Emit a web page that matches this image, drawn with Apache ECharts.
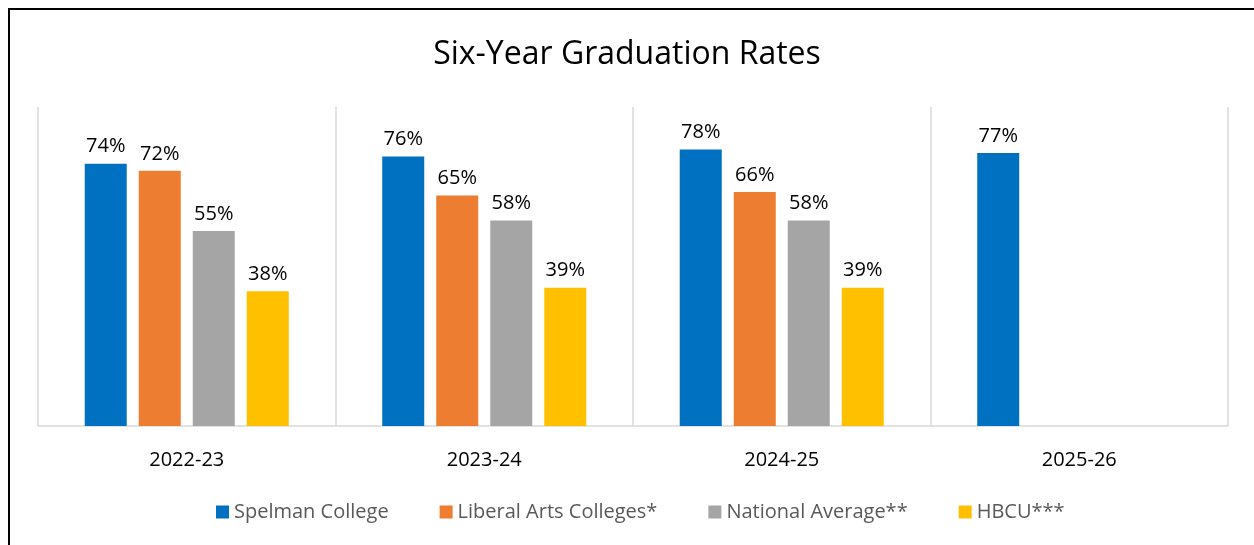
<!DOCTYPE html>
<html><head><meta charset="utf-8">
<script src="https://cdn.jsdelivr.net/npm/echarts@6/dist/echarts.min.js"></script>
<style>html,body{margin:0;padding:0;background:#fff}#c{width:1254px;height:545px}</style>
</head><body><div id="c"></div>
<script>
const categories = ['2022-23', '2023-24', '2024-25', '2025-26'];
const seriesNames = ['Spelman College', 'Liberal Arts Colleges*', 'National Average**', 'HBCU***'];
const spelman = [74, 76, 78, 77];
const liberalArts = [72, 65, 66, null];
const nationalAvg = [55, 58, 58, null];
const hbcu = [38, 39, 39, null];
const colors = ['#0070C0', '#ED7D31', '#A5A5A5', '#FFC000'];
const FONT = 'Open Sans';

const chart = echarts.init(document.getElementById('c'));
const values = [spelman, liberalArts, nationalAvg, hbcu];
chart.setOption({
  animation: false,
  color: colors,
  title: { text: 'Six-Year Graduation Rates', left: 'center', top: 34,
    textStyle: { fontFamily: FONT, fontSize: 32, fontWeight: 'normal', color: '#000' } },
  legend: { bottom: 18, left: 211, itemWidth: 13, itemHeight: 13, itemGap: 51,
    icon: 'rect',
    textStyle: { fontFamily: FONT, fontSize: 20, color: '#595959' },
    data: seriesNames },
  grid: { left: 38, right: 26, top: 107, bottom: 119 },
  xAxis: { type: 'category', data: categories,
    axisLine: { lineStyle: { color: '#d9d9d9', width: 1.5 } },
    axisTick: { show: false },
    splitLine: { show: true, lineStyle: { color: '#d9d9d9', width: 1.5 } },
    axisLabel: { fontFamily: FONT, fontSize: 20, color: '#000', margin: 24 } },
  yAxis: { type: 'value', min: 0, max: 90, show: false, splitLine: { show: false } },
  graphic: [{ type: 'rect', shape: { x: 9, y: 9, width: 1400, height: 800 },
    style: { fill: 'none', stroke: '#000', lineWidth: 2 } }],
  series: values.map((v, i) => ({
    name: seriesNames[i], type: 'bar', data: v, barWidth: 42, barGap: '28.6%',
    label: { show: true, position: 'top', distance: 7, formatter: p => p.value + '%',
      fontFamily: FONT, fontSize: 20, color: '#000' }
  }))
});
</script></body></html>
